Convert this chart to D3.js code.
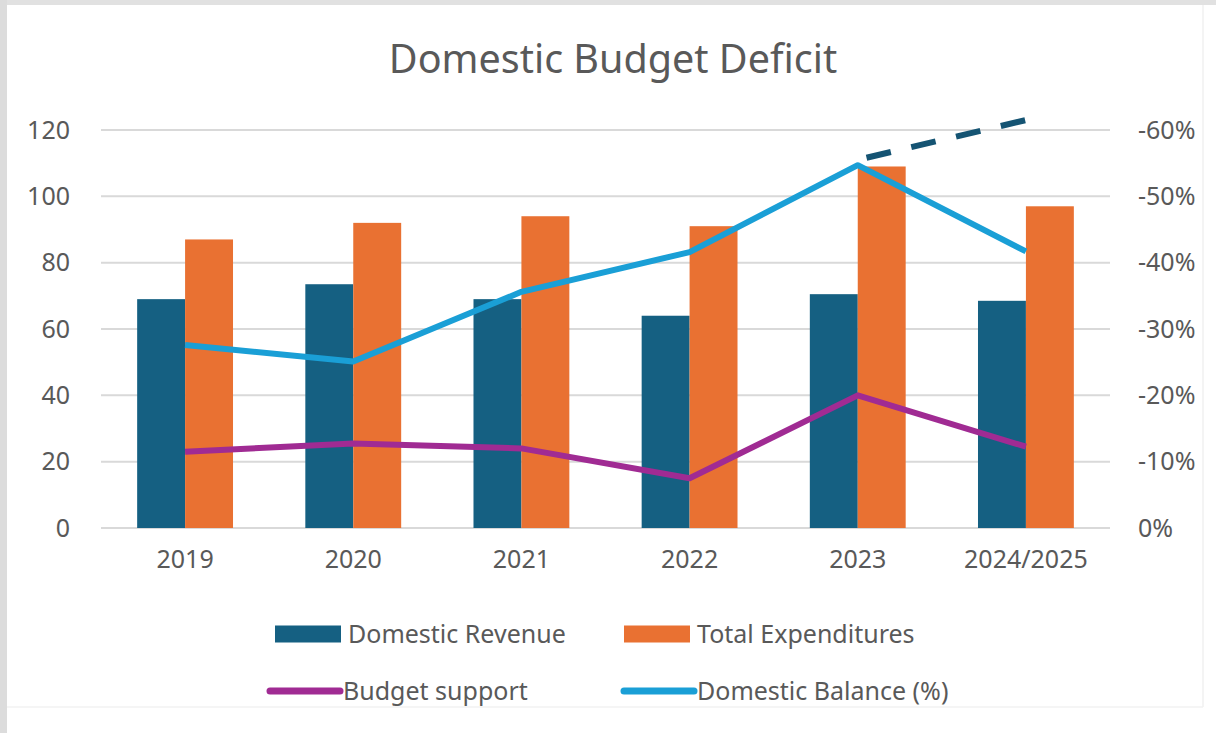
<!DOCTYPE html>
<html>
<head>
<meta charset="utf-8">
<script src="https://cdn.jsdelivr.net/npm/d3@7"></script>
<style>
  html, body { margin: 0; padding: 0; background: #ffffff; }
  svg { display: block; font-family: "Noto Sans", "Open Sans", sans-serif; }
</style>
</head>
<body>
<svg id="chart" width="1216" height="733"></svg>
<script>
// Data
const categories = ["2019", "2020", "2021", "2022", "2023", "2024/2025"];
const domesticRevenue = [69, 73.5, 69, 64, 70.5, 68.5];
const totalExpenditures = [87, 92, 94, 91, 109, 97];
const budgetSupport = [23, 25.5, 24, 15, 40, 24.5];
const domesticBalance = [-27.6, -25.1, -35.6, -41.6, -54.7, -41.7];
const balanceProjection = [null, null, null, null, -55.5, -61.5];
const leftTicks = [0, 20, 40, 60, 80, 100, 120];
const rightTicks = [0, -10, -20, -30, -40, -50, -60];

const colors = {
  revenue: "#156082",
  expend: "#E97132",
  support: "#A02B93",
  balance: "#1A9FD6",
  projection: "#155473",
  text: "#595959",
  grid: "#d9d9d9"
};

const svg = d3.select("#chart");
const W = 1216, H = 733;

// Frame
svg.append("rect").attr("x", 0).attr("y", 0).attr("width", W).attr("height", H).attr("fill", "#ffffff");
svg.append("rect").attr("x", 0).attr("y", 0).attr("width", W).attr("height", 5).attr("fill", "#e1e1e1");
svg.append("rect").attr("x", 0).attr("y", 0).attr("width", 7).attr("height", H).attr("fill", "#dcdcdc");
svg.append("line").attr("x1", 1203).attr("x2", 1203).attr("y1", 5).attr("y2", 707).attr("stroke", "#f0f0f0").attr("stroke-width", 1.5);
svg.append("line").attr("x1", 7).attr("x2", 1203).attr("y1", 707).attr("y2", 707).attr("stroke", "#f2f2f2").attr("stroke-width", 1.5);

const plot = { left: 101, right: 1110, top: 130, bottom: 528 };

const x = d3.scaleBand().domain(categories).range([plot.left, plot.right])
  .paddingInner(0.43).paddingOuter(0.215);
const xs = d3.scaleBand().domain(["rev", "exp"]).range([0, x.bandwidth()]);
const yL = d3.scaleLinear().domain([0, 120]).range([plot.bottom, plot.top]);
const yR = d3.scaleLinear().domain([0, -60]).range([plot.bottom, plot.top]);
const cx = c => x(c) + x.bandwidth() / 2;

// Title
svg.append("text").attr("x", 613).attr("y", 73).attr("text-anchor", "middle")
  .attr("fill", colors.text).attr("font-size", 39.5).text("Domestic Budget Deficit");

// Gridlines
svg.append("g").selectAll("line").data(leftTicks).join("line")
  .attr("x1", plot.left).attr("x2", plot.right)
  .attr("y1", d => yL(d)).attr("y2", d => yL(d))
  .attr("stroke", colors.grid).attr("stroke-width", 2);

// Left axis
const gL = svg.append("g").attr("transform", `translate(${plot.left},0)`)
  .call(d3.axisLeft(yL).tickValues(leftTicks).tickSize(0).tickPadding(31));
gL.select(".domain").remove();
gL.selectAll("text").attr("fill", colors.text).attr("font-size", 25)
  .attr("font-family", "Noto Sans, sans-serif");

// Right axis (hyphen-minus percentages)
const gR = svg.append("g").attr("transform", `translate(${plot.right},0)`)
  .call(d3.axisRight(yR).tickValues(rightTicks).tickSize(0).tickPadding(28)
    .tickFormat(d => `${d}%`));
gR.select(".domain").remove();
gR.selectAll("text").attr("fill", colors.text).attr("font-size", 25)
  .attr("font-family", "Noto Sans, sans-serif");

// X axis
const gX = svg.append("g").attr("transform", `translate(0,${plot.bottom})`)
  .call(d3.axisBottom(x).tickSize(0).tickPadding(22));
gX.select(".domain").remove();
gX.selectAll("text").attr("fill", colors.text).attr("font-size", 25)
  .attr("font-family", "Noto Sans, sans-serif");

// Bars
svg.append("g").selectAll("rect").data(categories).join("rect")
  .attr("x", c => x(c) + xs("rev")).attr("width", xs.bandwidth())
  .attr("y", (c, i) => yL(domesticRevenue[i]))
  .attr("height", (c, i) => yL(0) - yL(domesticRevenue[i]))
  .attr("fill", colors.revenue);
svg.append("g").selectAll("rect").data(categories).join("rect")
  .attr("x", c => x(c) + xs("exp")).attr("width", xs.bandwidth())
  .attr("y", (c, i) => yL(totalExpenditures[i]))
  .attr("height", (c, i) => yL(0) - yL(totalExpenditures[i]))
  .attr("fill", colors.expend);

// Lines
const lineL = d3.line().x((d, i) => cx(categories[i])).y(d => yL(d));
const lineR = d3.line().defined(d => d !== null).x((d, i) => cx(categories[i])).y(d => yR(d));

svg.append("path").datum(budgetSupport).attr("d", lineL)
  .attr("fill", "none").attr("stroke", colors.support).attr("stroke-width", 6)
  .attr("stroke-linejoin", "round");
svg.append("path").datum(domesticBalance).attr("d", lineR)
  .attr("fill", "none").attr("stroke", colors.balance).attr("stroke-width", 6)
  .attr("stroke-linejoin", "round");
svg.append("path").datum(balanceProjection).attr("d", lineR)
  .attr("fill", "none").attr("stroke", colors.projection).attr("stroke-width", 6)
  .attr("stroke-dasharray", "25 21").attr("stroke-dashoffset", 37);

// Legend
const legend = svg.append("g").attr("font-size", 25).attr("fill", colors.text);
const items = [
  { label: "Domestic Revenue", type: "rect", color: colors.revenue, x: 275, y: 634 },
  { label: "Total Expenditures", type: "rect", color: colors.expend, x: 624, y: 634 },
  { label: "Budget support", type: "line", color: colors.support, x: 270, y: 691 },
  { label: "Domestic Balance (%)", type: "line", color: colors.balance, x: 624, y: 691 }
];
items.forEach(it => {
  if (it.type === "rect") {
    legend.append("rect").attr("x", it.x).attr("y", it.y - 8.5).attr("width", 66).attr("height", 17)
      .attr("fill", it.color);
  } else {
    legend.append("line").attr("x1", it.x).attr("x2", it.x + 70).attr("y1", it.y).attr("y2", it.y)
      .attr("stroke", it.color).attr("stroke-width", 7).attr("stroke-linecap", "round");
  }
  legend.append("text").attr("x", it.x + 73).attr("y", it.y).attr("dy", "0.35em")
    .attr("fill", colors.text).text(it.label);
});
</script>
</body>
</html>
